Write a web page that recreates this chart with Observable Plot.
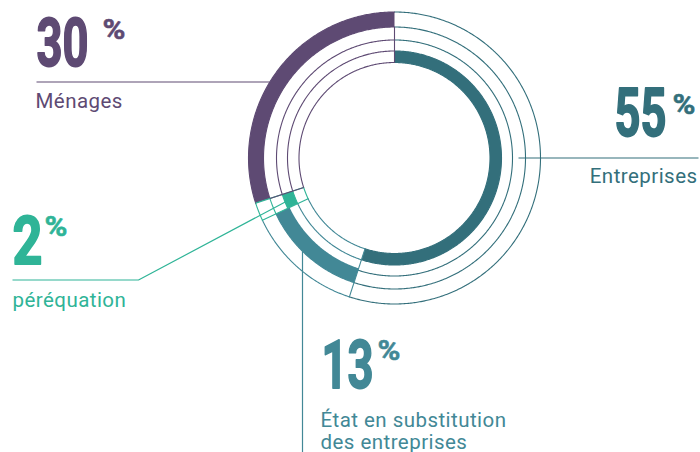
<!DOCTYPE html>
<html><head><meta charset="utf-8">
<script src="https://cdn.jsdelivr.net/npm/d3@7"></script>
<script src="https://cdn.jsdelivr.net/npm/@observablehq/plot@0.6"></script>
<style>
html,body{margin:0;padding:0;background:#fff;}
</style>
</head><body>
<div id="chart"></div>
<script>
// ---- data ----
const categories = ["Entreprises", "État en substitution des entreprises", "péréquation", "Ménages"];
const values = [55, 13, 2, 30];
const labels = ["Entreprises", "État en substitution\ndes entreprises", "péréquation", "Ménages"];

// ---- style / layout ----
const colors = ["#336f7b", "#428896", "#2fb497", "#5e4a73"];
const W = 700, H = 452, CX = 394, CY = 157.5;
const radii = [146, 131, 118, 107, 95.5];
const bands = [[95.5, 107], [116, 131], [107, 118], [131, 146]];
const px2x = p => p - CX, py2y = p => CY - p;
const toRad = a => a * Math.PI / 180;
const pol = (r, a) => ({X: r * Math.sin(toRad(a)), Y: r * Math.cos(toRad(a))});
function arc(r, a0, a1) {
  const n = Math.max(2, Math.ceil(Math.abs(a1 - a0) / 0.5));
  return d3.range(n + 1).map(i => pol(r, a0 + (a1 - a0) * i / n));
}
const total = d3.sum(values);
const starts = [], ends = [];
let acc = 0;
values.forEach((v, i) => { starts.push(acc / total * 360); acc += v; ends.push(acc / total * 360); });

const thin = [];
categories.forEach((c, i) => radii.forEach((r, j) => arc(r, starts[i], ends[i]).forEach(p => thin.push({...p, cat: c, key: c + j}))));
const bandPolys = categories.map((c, i) => {
  const [ri, ro] = bands[i];
  return arc(ro, starts[i], ends[i]).concat(arc(ri, ends[i], starts[i])).map(p => ({...p, cat: c}));
});
const radials = [
  {a: ends[3], r0: radii[4], r1: radii[1], cat: categories[3]},
  {a: starts[1], r0: radii[4], r1: radii[0], cat: categories[1]},
  {a: starts[2], r0: radii[4], r1: radii[0], cat: categories[2]},
  {a: ends[2], r0: radii[4], r1: radii[0], cat: categories[2]},
  {a: starts[3], r0: radii[4], r1: radii[1], cat: categories[3]}
].map(d => { const p0 = pol(d.r0, d.a), p1 = pol(d.r1, d.a); return {x1: p0.X, y1: p0.Y, x2: p1.X, y2: p1.Y, cat: d.cat}; });

const leaders = [];
{ const Y = py2y(81.5), X = -Math.sqrt(146 * 146 - Y * Y);
  [{X: px2x(36), Y}, {X, Y}].forEach(p => leaders.push({...p, cat: categories[3]})); }
{ const p = pol(124, 90);
  [p, {X: px2x(698), Y: p.Y}].forEach(q => leaders.push({...q, cat: categories[0]})); }
{ const X = px2x(302), Y = -Math.sqrt(131 * 131 - X * X);
  [{X, Y}, {X, Y: py2y(H)}].forEach(q => leaders.push({...q, cat: categories[1]})); }
{ const p = pol(112, (starts[2] + ends[2]) / 2);
  [{X: px2x(12), Y: py2y(279.5)}, {X: px2x(138), Y: py2y(279.5)}, p].forEach(q => leaders.push({...q, cat: categories[2]})); }

const tl = [
  {nx: 666, ny: 135, px: 672, py: 113, lx: 697, ly: 182, anchor: "end"},
  {nx: 321, ny: 387, px: 377, py: 359, lx: 320, ly: 448, anchor: "start"},
  {nx: 12, ny: 263, px: 44, py: 235, lx: 12, ly: 306, anchor: "start"},
  {nx: 36, ny: 65, px: 102, py: 38, lx: 35, ly: 107, anchor: "start"}
];
const txt = categories.map((c, i) => ({cat: c, value: values[i], label: labels[i], ...tl[i]}));

const font = "Roboto, 'Noto Sans', sans-serif";
const numFont = "Roboto, 'Noto Sans', sans-serif";
const NUM = 66, PCT = 27, LAB = 20.5;

const plot = Plot.plot({
  width: W, height: H,
  margin: 0,
  x: {domain: [px2x(0), px2x(W)], axis: null},
  y: {domain: [py2y(H), py2y(0)], axis: null},
  color: {domain: categories, range: colors},
  marks: [
    Plot.line(thin, {x: "X", y: "Y", z: "key", stroke: "cat", strokeWidth: 1.1}),
    ...bandPolys.map(poly => Plot.line(poly, {x: "X", y: "Y", fill: "cat", stroke: "none"})),
    Plot.link(radials, {x1: "x1", y1: "y1", x2: "x2", y2: "y2", stroke: "cat", strokeWidth: 1.1}),
    Plot.line(leaders, {x: "X", y: "Y", z: "cat", stroke: "cat", strokeWidth: 1.2, strokeLinecap: "butt"}),
    Plot.text(txt.filter(d => d.anchor === "start"), {x: d => px2x(d.nx), y: d => py2y(d.ny), text: d => String(d.value), fill: "cat", stroke: "cat", strokeWidth: 1.8, textAnchor: "start", lineAnchor: "bottom", fontSize: NUM, fontWeight: "bold", fontFamily: numFont}),
    Plot.text(txt.filter(d => d.anchor === "end"), {x: d => px2x(d.nx), y: d => py2y(d.ny), text: d => String(d.value), fill: "cat", stroke: "cat", strokeWidth: 1.8, textAnchor: "end", lineAnchor: "bottom", fontSize: NUM, fontWeight: "bold", fontFamily: numFont}),
    Plot.text(txt, {x: d => px2x(d.px), y: d => py2y(d.py), text: () => "%", fill: "cat", stroke: "cat", strokeWidth: 0.5, textAnchor: "start", lineAnchor: "bottom", fontSize: PCT, fontWeight: "bold", fontFamily: numFont}),
    Plot.text(txt.filter(d => d.anchor === "start"), {x: d => px2x(d.lx), y: d => py2y(d.ly), text: "label", fill: "cat", textAnchor: "start", lineAnchor: "bottom", fontSize: LAB, lineHeight: 1.04, fontFamily: font}),
    Plot.text(txt.filter(d => d.anchor === "end"), {x: d => px2x(d.lx), y: d => py2y(d.ly), text: "label", fill: "cat", textAnchor: "end", lineAnchor: "bottom", fontSize: LAB, lineHeight: 1.04, fontFamily: font})
  ]
});
const svg = d3.select(plot);
// condense the big figures (the reference uses a condensed face)
svg.selectAll(`g[font-size="${NUM}"] text`).each(function() {
  const t = this.textContent.trim();
  this.setAttribute("textLength", t.length === 1 ? 30 : 52);
  this.setAttribute("lengthAdjust", "spacingAndGlyphs");
});
svg.selectAll(`g[font-size="${PCT}"] text`).each(function() {
  this.setAttribute("textLength", 23);
  this.setAttribute("lengthAdjust", "spacingAndGlyphs");
});
svg.selectAll(`g[font-size="${LAB}"]`).attr("letter-spacing", "0.45px");
document.getElementById("chart").appendChild(plot);
</script>
</body></html>
